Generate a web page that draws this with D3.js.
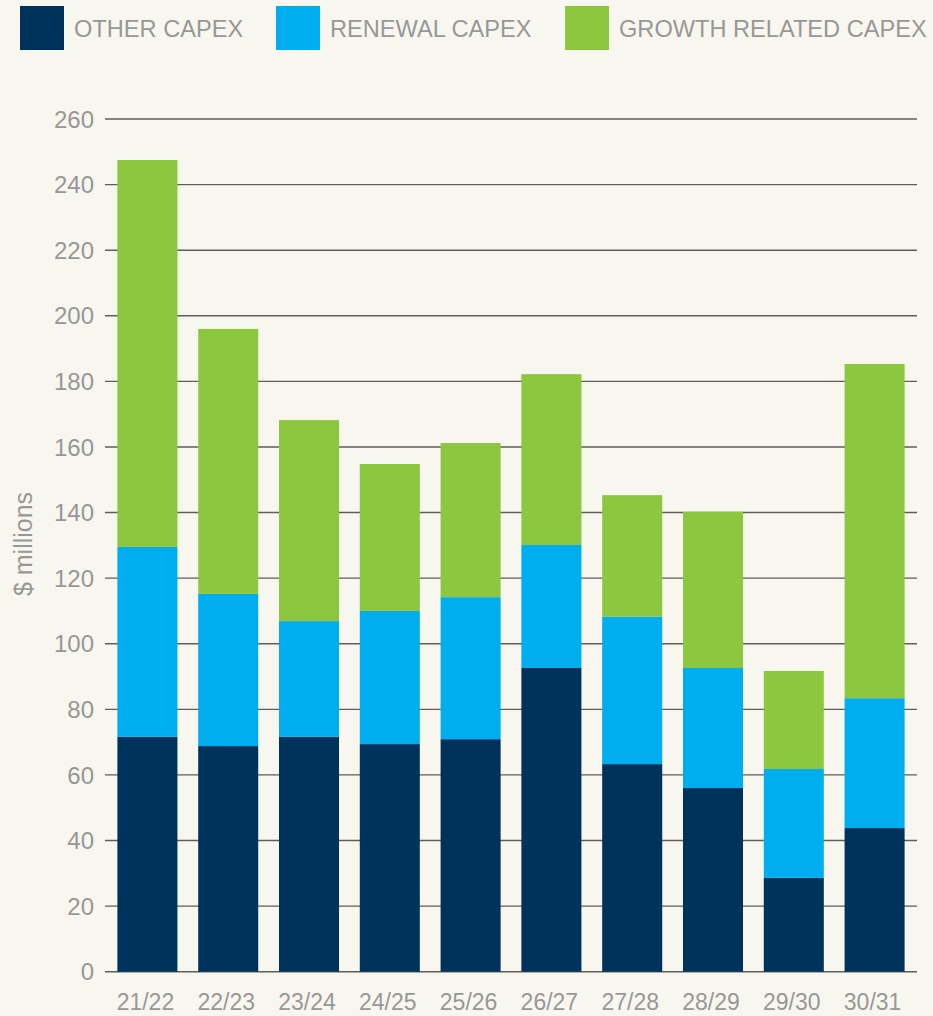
<!DOCTYPE html>
<html>
<head>
<meta charset="utf-8">
<script src="https://cdn.jsdelivr.net/npm/d3@7"></script>
<style>
  html, body { margin: 0; padding: 0; background: #f8f7ef; }
  svg { display: block; }
  text { font-family: "Liberation Sans", Arial, sans-serif; fill: #979797; }
</style>
</head>
<body>
<svg id="theSvg"></svg>
<script>
const years = ["21/22", "22/23", "23/24", "24/25", "25/26", "26/27", "27/28", "28/29", "29/30", "30/31"];
const otherCapex = [71.6, 68.8, 71.6, 69.4, 70.9, 92.6, 63.3, 56.0, 28.6, 43.8];
const renewalCapex = [57.9, 46.4, 35.3, 40.6, 43.3, 37.5, 44.9, 36.6, 33.2, 39.6];
const growthCapex = [118.0, 80.8, 61.3, 44.8, 47.0, 52.1, 37.1, 47.6, 29.9, 101.9];
const seriesNames = ["OTHER CAPEX", "RENEWAL CAPEX", "GROWTH RELATED CAPEX"];
const yTicks = d3.range(0, 261, 20);

const width = 933, height = 1016;
const margin = {top: 119, right: 17, bottom: 44, left: 105};
const colours = ["#00335c", "#00adef", "#8dc63f"];

const svg = d3.select("#theSvg")
  .attr("width", width)
  .attr("height", height)
  .attr("viewBox", [0, 0, width, height]);

const rows = years.map((y, i) => ({
  year: y,
  other: otherCapex[i],
  renewal: renewalCapex[i],
  growth: growthCapex[i]
}));
const keys = ["other", "renewal", "growth"];
const stacked = d3.stack().keys(keys)(rows);

const x = d3.scaleBand()
  .domain(years)
  .range([106, 916])
  .paddingInner(0.257)
  .paddingOuter(0.141);

const y = d3.scaleLinear()
  .domain([0, 260])
  .range([height - margin.bottom - 0.3, margin.top]);

// gridlines
svg.append("g").attr("class", "grid")
  .selectAll("line")
  .data(yTicks)
  .join("line")
    .attr("x1", margin.left)
    .attr("x2", width - margin.right + 1)
    .attr("y1", d => y(d))
    .attr("y2", d => y(d))
    .attr("stroke", "#5f5d58")
    .attr("stroke-width", 1.4);

// y tick labels
svg.append("g").attr("class", "yAxis")
  .selectAll("text")
  .data(yTicks)
  .join("text")
    .attr("x", 94)
    .attr("y", d => y(d))
    .attr("dy", "0.36em")
    .attr("text-anchor", "end")
    .style("font-size", "24px")
    .text(d => d);

// bars
svg.append("g").attr("class", "bars")
  .selectAll("g")
  .data(stacked)
  .join("g")
    .attr("fill", (d, i) => colours[i])
  .selectAll("rect")
  .data(d => d)
  .join("rect")
    .attr("x", d => x(d.data.year))
    .attr("y", d => y(d[1]))
    .attr("width", x.bandwidth())
    .attr("height", d => y(d[0]) - y(d[1]));

// x labels
svg.append("g").attr("class", "xAxis")
  .selectAll("text")
  .data(years)
  .join("text")
    .attr("x", d => x(d) + x.bandwidth() / 2 - 2)
    .attr("y", 1010)
    .attr("text-anchor", "middle")
    .style("font-size", "23px")
    .text(d => d);

// y axis title
svg.append("text")
  .attr("transform", "translate(32,544) rotate(-90)")
  .attr("text-anchor", "middle")
  .style("font-size", "25px")
  .text("$ millions");

// legend
const legendX = [20, 276, 565];
const legend = svg.append("g").attr("class", "legend")
  .selectAll("g")
  .data(seriesNames)
  .join("g")
    .attr("transform", (d, i) => "translate(" + legendX[i] + ",6)");

legend.append("rect")
  .attr("width", 44)
  .attr("height", 44)
  .attr("fill", (d, i) => colours[i]);

legend.append("text")
  .attr("x", 54)
  .attr("y", 30.7)
  .style("font-size", "23.6px")
  .text(d => d);
</script>
</body>
</html>
